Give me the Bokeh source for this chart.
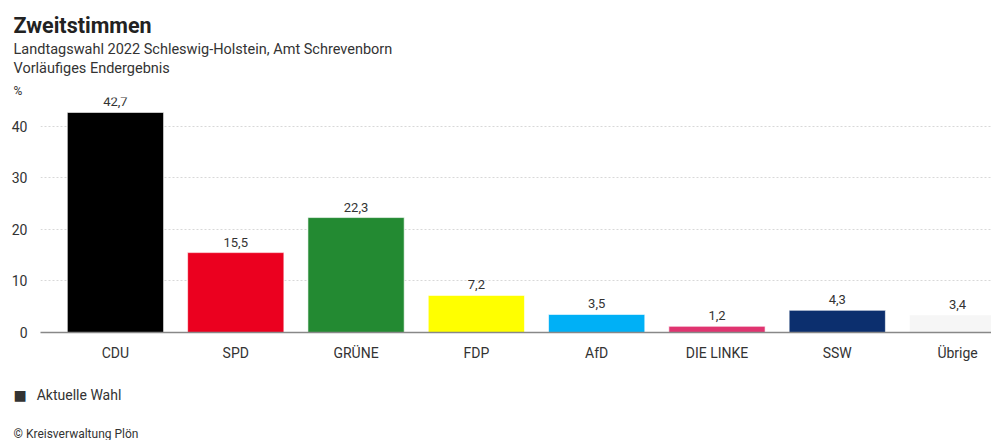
from bokeh.plotting import figure
from bokeh.models import ColumnDataSource, Range1d, LabelSet, FixedTicker, Title
from bokeh.core.properties import value
from bokeh.embed import file_html
from bokeh.resources import INLINE

parties = ["CDU", "SPD", "GRÜNE", "FDP", "AfD", "DIE LINKE", "SSW", "Übrige"]
values = [42.7, 15.5, 22.3, 7.2, 3.5, 1.2, 4.3, 3.4]
colors = ["#000000", "#eb001f", "#238a32", "#ffff00", "#00b0f6", "#e03470",
          "#0c2f6e", "#f6f6f6"]
y_ticks = [0, 10, 20, 30, 40]

FONT = "Roboto"
TXT = "#333333"

idx = list(range(len(parties)))
src = ColumnDataSource(dict(
    x=idx, top=values, color=colors,
    label=[f"{v:.1f}".replace(".", ",") for v in values],
))

p = figure(width=991, height=440, output_backend="svg", toolbar_location=None,
           x_range=Range1d(-0.623, 7.282), y_range=Range1d(0, 45.6),
           min_border_left=40, min_border_right=0, min_border_top=0,
           min_border_bottom=0)
p.title = None
p.outline_line_color = None
p.background_fill_color = "white"
p.border_fill_color = "white"

p.vbar(x="x", top="top", width=0.8, bottom=0, source=src,
       fill_color="color", line_color="white", line_alpha=0.6, line_width=1)

p.add_layout(LabelSet(x="x", y="top", text="label", source=src, text_align="center",
                      text_baseline="alphabetic", y_offset=6,
                      text_font=value(FONT), text_font_size=value("13px"),
                      text_color=TXT))

# axes
p.xaxis.ticker = FixedTicker(ticks=idx)
p.xaxis.major_label_overrides = {i: n for i, n in zip(idx, parties)}
p.xaxis.major_tick_line_color = None
p.xaxis.minor_tick_line_color = None
p.xaxis.major_tick_out = 0
p.xaxis.minor_tick_out = 0
p.xaxis.axis_line_color = "#888888"
p.xaxis.axis_line_width = 1.5
p.xaxis.major_label_standoff = 12
p.xaxis.major_label_text_font = FONT
p.xaxis.major_label_text_font_size = "14px"
p.xaxis.major_label_text_color = TXT

p.yaxis.ticker = FixedTicker(ticks=y_ticks)
p.yaxis.major_tick_line_color = None
p.yaxis.minor_tick_line_color = None
p.yaxis.major_tick_out = 0
p.yaxis.minor_tick_out = 0
p.yaxis.axis_line_color = None
p.yaxis.major_label_standoff = 13
p.yaxis.major_label_text_font = FONT
p.yaxis.major_label_text_font_size = "14px"
p.yaxis.major_label_text_color = TXT

p.xgrid.grid_line_color = None
p.ygrid.ticker = FixedTicker(ticks=y_ticks[1:])
p.ygrid.grid_line_color = "#d8d8d8"
p.ygrid.grid_line_dash = "2 2"
p.ygrid.grid_line_width = 1

def title(text, size, standoff, bold=False, color=TXT, where="above", font=FONT,
          line_height=1.2):
    t = Title(text=text, text_font=font, text_font_size=size,
              text_font_style="bold" if bold else "normal",
              text_color=color, align="left", offset=-27, standoff=standoff,
              text_line_height=line_height)
    p.add_layout(t, where)

# above: last added is outermost
title("%", "12px", 0)
title(" ", "2px", 0)
title("Landtagswahl 2022 Schleswig-Holstein, Amt Schrevenborn\nVorläufiges Endergebnis",
      "14.5px", 0, line_height=1.15)
title("Zweitstimmen", "21.5px", 1, bold=True, color="#222222")
title(" ", "7px", 0)

# below: first added is closest to the plot
title("■\u2002\u2009Aktuelle Wahl", "14px", 43, where="below", font="Roboto, DejaVu Sans")
title("© Kreisverwaltung Plön", "12px", 0, where="below")

open("out.html", "w").write(file_html(p, INLINE))
